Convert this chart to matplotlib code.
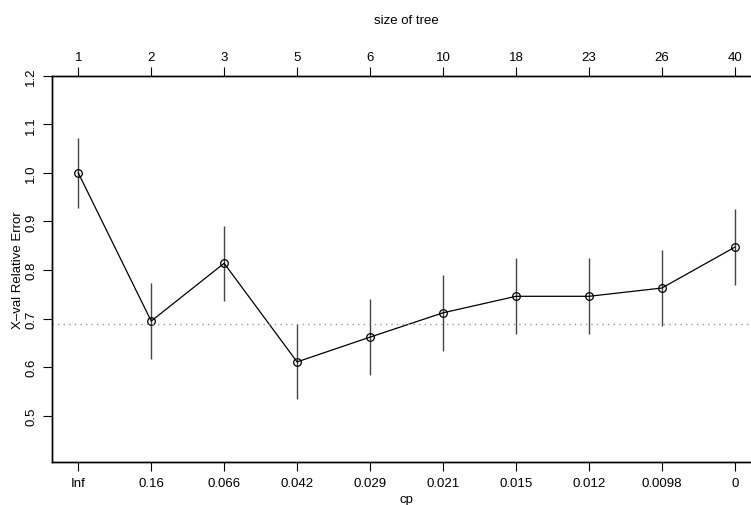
import numpy as np
import matplotlib
matplotlib.use("Agg")
import matplotlib.pyplot as plt

plt.rcParams['font.family'] = ['Liberation Sans', 'DejaVu Sans']

# cross-validation results
cp_labels = ["Inf", "0.16", "0.066", "0.042", "0.029", "0.021", "0.015", "0.012", "0.0098", "0"]
tree_size = ["1", "2", "3", "5", "6", "10", "18", "23", "26", "40"]
xerror = [1.000, 0.695, 0.814, 0.611, 0.662, 0.712, 0.746, 0.746, 0.763, 0.847]
xstd = [0.072, 0.078, 0.077, 0.077, 0.078, 0.078, 0.078, 0.078, 0.078, 0.078]

x = np.arange(1, len(xerror) + 1)
xerror = np.array(xerror)
xstd = np.array(xstd)
best = np.argmin(xerror)
thresh = xerror[best] + xstd[best]

fig = plt.figure(figsize=(7.51, 5.06), dpi=100)
# the plot box runs past the right edge of the picture, as in the original
ax = fig.add_axes([52 / 751, (506 - 463) / 506, (761 - 52) / 751, (463 - 76.7) / 506])

ax.vlines(x, xerror - xstd, xerror + xstd, color="#444444", lw=1.0)
ax.plot(x, xerror, color="black", lw=0.9, marker="o", ms=5.5, mfc="none", mec="black", mew=0.9)
ax.axhline(thresh, color="#999999", lw=1.0, ls=(0, (1, 3)))

ax.set_xlim(0.64, 10.36)
ax.set_ylim(0.405, 1.2)

ax.set_xticks(x)
ax.set_xticklabels(cp_labels)
ax.set_yticks([0.5, 0.6, 0.7, 0.8, 0.9, 1.0, 1.1, 1.2])
ax.set_yticklabels(["0.5", "0.6", "0.7", "0.8", "0.9", "1.0", "1.1", "1.2"], rotation=90, va="center")
ax.tick_params(direction="out", length=6.5, width=0.8, labelsize=9.5, pad=4)
ax.set_xlabel("cp", fontsize=9.5, labelpad=3)
ax.set_ylabel("X\u2013val Relative Error", fontsize=9.5, labelpad=1)

top = ax.twiny()
top.set_xlim(ax.get_xlim())
top.set_xticks(x)
top.set_xticklabels(tree_size)
top.tick_params(direction="out", length=6.5, width=0.8, labelsize=9.5, pad=3)
top.set_xlabel("size of tree", fontsize=9.5, labelpad=20)

for a in (ax, top):
    for s in a.spines.values():
        s.set_linewidth(1.0)
    a.spines["right"].set_visible(False)

fig.savefig("out.png", dpi=100)
